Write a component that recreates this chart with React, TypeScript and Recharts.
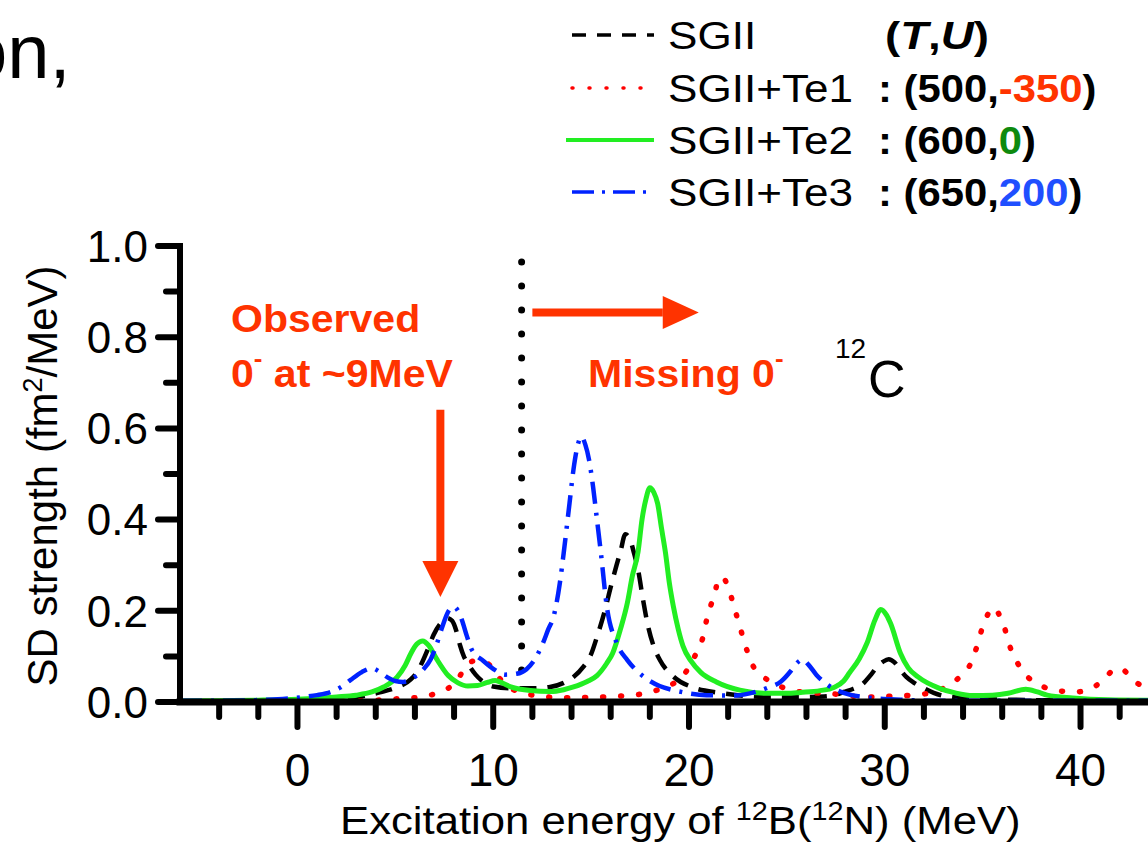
import React from "react";
import { LineChart, Line, XAxis, YAxis, ReferenceLine, Legend } from "recharts";

const FONT = "'Liberation Sans', Arial, Helvetica, sans-serif";
const ANNOT_RED = "#ff3300";

// axis ticks (MeV every 2, labels every 10; strength every 0.1, labels every 0.2)
const xTicks = [-4, -2, 0, 2, 4, 6, 8, 10, 12, 14, 16, 18, 20, 22, 24, 26, 28, 30, 32, 34, 36, 38, 40, 42];
const yTicks = [0, 0.1, 0.2, 0.3, 0.4, 0.5, 0.6, 0.7, 0.8, 0.9, 1.0];

// [excitation energy (MeV), SD strength (fm^2/MeV)]
const sgii: [number, number][] = [
  [-6, 0.001], [-2, 0.002], [0, 0.003], [2, 0.006], [3, 0.01], [3.6, 0.015], [4.2, 0.021],
  [5.0, 0.031], [5.8, 0.05], [6.1, 0.065], [6.4, 0.09], [6.7, 0.12], [6.95, 0.147], [7.3, 0.172],
  [7.65, 0.184], [7.9, 0.178], [8.1, 0.158], [8.3, 0.125], [8.5, 0.1], [8.7, 0.085], [9.1, 0.06],
  [9.5, 0.044], [10.0, 0.034], [11.0, 0.03], [12.0, 0.03], [12.9, 0.033], [13.6, 0.042],
  [14.1, 0.055], [14.6, 0.077], [15.0, 0.105], [15.3, 0.143], [15.7, 0.2], [16.0, 0.252],
  [16.3, 0.3], [16.5, 0.33], [16.75, 0.368], [17.0, 0.355], [17.2, 0.325], [17.4, 0.29],
  [17.65, 0.225], [17.9, 0.168], [18.2, 0.122], [18.5, 0.093], [19.2, 0.056], [20.2, 0.032],
  [21.6, 0.02], [22.5, 0.015], [24.0, 0.011], [25.5, 0.011], [26.9, 0.012], [27.5, 0.016],
  [27.9, 0.022], [28.4, 0.029], [28.8, 0.037], [29.3, 0.06], [29.6, 0.077], [29.9, 0.088],
  [30.2, 0.094], [30.5, 0.087], [30.8, 0.07], [31.1, 0.055], [31.5, 0.042], [32.0, 0.03],
  [32.5, 0.02], [33.2, 0.012], [35, 0.007], [38, 0.004], [43.6, 0.003],
];

const te1: [number, number][] = [
  [-6, 0.0], [-2, 0.001], [0, 0.001], [2, 0.002], [4.1, 0.004], [5.1, 0.007], [6.1, 0.01],
  [7.1, 0.019], [7.7, 0.03], [8.2, 0.05], [8.5, 0.072], [8.8, 0.087], [9.2, 0.091], [9.7, 0.085],
  [10.1, 0.065], [10.4, 0.048], [10.9, 0.03], [11.5, 0.02], [12.6, 0.012], [13.4, 0.009],
  [15.5, 0.011], [16.5, 0.013], [17.5, 0.017], [18.5, 0.028], [19.1, 0.038], [19.6, 0.053],
  [20.2, 0.092], [20.5, 0.12], [20.7, 0.14], [20.9, 0.18], [21.1, 0.21], [21.3, 0.235],
  [21.5, 0.268], [21.7, 0.274], [22.0, 0.252], [22.3, 0.209], [22.6, 0.165], [22.9, 0.121],
  [23.3, 0.077], [23.8, 0.055], [24.3, 0.042], [25.3, 0.025], [26.4, 0.02], [27.3, 0.018],
  [28.3, 0.013], [29.4, 0.011], [30.4, 0.013], [31.4, 0.015], [32.3, 0.02], [32.9, 0.028],
  [33.4, 0.04], [34.0, 0.062], [34.3, 0.077], [34.7, 0.121], [35.0, 0.165], [35.3, 0.195],
  [35.5, 0.207], [35.8, 0.195], [36.1, 0.165], [36.4, 0.121], [36.9, 0.077], [37.3, 0.055],
  [37.8, 0.04], [38.8, 0.025], [39.8, 0.022], [40.3, 0.026], [40.8, 0.036], [41.3, 0.055],
  [41.8, 0.073], [42.1, 0.072], [42.7, 0.047], [43.6, 0.028],
];

const te2: [number, number][] = [
  [-6, 0.002], [-4, 0.003], [-2, 0.004], [0, 0.006], [1, 0.008], [2, 0.011], [3, 0.015],
  [3.8, 0.022], [4.4, 0.033], [5.1, 0.055], [5.5, 0.08], [5.8, 0.107], [6.1, 0.127], [6.4, 0.134],
  [6.7, 0.124], [7.1, 0.095], [7.7, 0.058], [8.2, 0.042], [8.7, 0.035], [9.2, 0.036], [9.7, 0.043],
  [10.1, 0.047], [10.5, 0.041], [10.9, 0.033], [11.9, 0.025], [12.9, 0.023], [13.6, 0.027],
  [14.1, 0.033], [14.8, 0.045], [15.3, 0.058], [15.8, 0.085], [16.1, 0.107], [16.5, 0.16],
  [16.85, 0.217], [17.1, 0.275], [17.4, 0.33], [17.6, 0.4], [17.8, 0.445], [18.0, 0.47],
  [18.2, 0.46], [18.4, 0.435], [18.6, 0.38], [18.8, 0.327], [19.0, 0.26], [19.2, 0.21],
  [19.45, 0.16], [19.7, 0.122], [20.1, 0.09], [20.6, 0.065], [21.4, 0.044], [22.6, 0.026],
  [24.0, 0.019], [25.0, 0.019], [25.7, 0.021], [26.7, 0.025], [27.4, 0.032], [27.9, 0.046],
  [28.2, 0.064], [28.7, 0.095], [29.1, 0.13], [29.5, 0.18], [29.8, 0.203], [30.1, 0.19],
  [30.3, 0.172], [30.8, 0.107], [31.2, 0.075], [31.7, 0.055], [32.8, 0.03], [33.6, 0.02],
  [34.5, 0.014], [35.5, 0.015], [36.3, 0.019], [37.2, 0.028], [37.8, 0.022], [38.3, 0.015],
  [39.6, 0.009], [41.4, 0.005], [43.6, 0.004],
];

const te3: [number, number][] = [
  [-6, 0.003], [-4, 0.003], [-2.2, 0.004], [-1, 0.006], [0.3, 0.011], [1, 0.015], [1.7, 0.022],
  [2.2, 0.032], [2.7, 0.048], [3.3, 0.066], [3.8, 0.074], [4.2, 0.066], [4.6, 0.054], [5.0, 0.046],
  [5.4, 0.044], [6.0, 0.055], [6.4, 0.07], [6.8, 0.093], [7.1, 0.125], [7.4, 0.165], [7.7, 0.198],
  [8.0, 0.209], [8.2, 0.2], [8.4, 0.18], [8.65, 0.145], [8.9, 0.115], [9.5, 0.09], [10.1, 0.07],
  [10.6, 0.06], [11.2, 0.062], [11.7, 0.072], [12.1, 0.092], [12.5, 0.125], [12.8, 0.158],
  [13.1, 0.19], [13.4, 0.26], [13.6, 0.327], [13.9, 0.437], [14.1, 0.51], [14.3, 0.56],
  [14.5, 0.582], [14.7, 0.565], [14.9, 0.53], [15.1, 0.472], [15.3, 0.4], [15.5, 0.327],
  [15.8, 0.21], [16.3, 0.13], [16.85, 0.092], [17.4, 0.066], [17.9, 0.049], [18.5, 0.035],
  [19.2, 0.026], [20.0, 0.019], [20.9, 0.015], [22.3, 0.014], [23.1, 0.019], [24.0, 0.031],
  [24.7, 0.045], [25.2, 0.068], [25.5, 0.085], [25.8, 0.093], [26.1, 0.082], [26.5, 0.06],
  [27.1, 0.037], [27.9, 0.02], [29.3, 0.009], [30.8, 0.005], [33, 0.003], [38, 0.003], [43.6, 0.003],
];

const seriesNames = ["SGII", "SGII+Te1", "SGII+Te2", "SGII+Te3"];
const seriesData = [sgii, te1, te2, te3];

// (T, U) parameters of the tensor terms
const tParam = [500, 600, 650];
const uParam = [-350, 0, 200];
const uColors = ["#ff3300", "#0e8a0e", "#1f4fff"];

const STYLES: Record<string, { stroke: string; dash?: string; width: number }> = {
  SGII: { stroke: "#000000", dash: "17 11", width: 4.5 },
  "SGII+Te1": { stroke: "#ff0000", dash: "1 17", width: 5.5 },
  "SGII+Te2": { stroke: "#22ee22", width: 5 },
  "SGII+Te3": { stroke: "#0022ff", dash: "22 9 3 9", width: 4.5 },
};

const toRows = (pairs: [number, number][]) => pairs.map(([e, s]) => ({ e, s }));

const SText = ({ x, y, sx = 1, children, ...rest }: any) => (
  <text transform={`translate(${x} ${y}) scale(${sx} 1)`} fontFamily={FONT} {...rest}>
    {children}
  </text>
);

const bottomTick = ({ x, y, payload }: any) => {
  const major = payload.value % 10 === 0;
  return (
    <g>
      <line x1={x} x2={x} y1={y} y2={y + (major ? 25 : 15)} stroke="#000" strokeWidth={6} strokeLinecap="round" />
      {major && (
        <text x={x} y={y + 84} textAnchor="middle" fontSize={46} fontFamily={FONT} fill="#000">
          {payload.value}
        </text>
      )}
    </g>
  );
};

const topTick = ({ x, y }: any) => (
  <line x1={x} x2={x} y1={y} y2={y + 14} stroke="#000" strokeWidth={6} strokeLinecap="round" />
);

const leftTick = ({ x, y, payload }: any) => {
  const major = Math.round(payload.value * 10) % 2 === 0;
  return (
    <g>
      <line x1={x} x2={x - (major ? 22 : 14)} y1={y} y2={y} stroke="#000" strokeWidth={6} strokeLinecap="round" />
      {major && (
        <text x={x - 32} y={y} dy="0.36em" textAnchor="end" fontSize={44} fontFamily={FONT} fill="#000">
          {payload.value.toFixed(1)}
        </text>
      )}
    </g>
  );
};

const rightTick = ({ x, y, payload }: any) => {
  const major = Math.round(payload.value * 10) % 2 === 0;
  return <line x1={x} x2={x - (major ? 16 : 8)} y1={y} y2={y} stroke="#000" strokeWidth={6} strokeLinecap="round" />;
};

const arrowShape = (head: number, width: number) => (props: any) => {
  const { x1, y1, x2, y2 } = props;
  const len = Math.hypot(x2 - x1, y2 - y1) || 1;
  const ux = (x2 - x1) / len;
  const uy = (y2 - y1) / len;
  const bx = x2 - ux * head;
  const by = y2 - uy * head;
  const px = (-uy * width) / 2;
  const py = (ux * width) / 2;
  return (
    <g>
      <line x1={x1} y1={y1} x2={bx} y2={by} stroke={ANNOT_RED} strokeWidth={8} />
      <polygon points={`${x2},${y2} ${bx + px},${by + py} ${bx - px},${by - py}`} fill={ANNOT_RED} />
    </g>
  );
};

const LEGEND_ROWS = [35, 88, 140, 192];

const renderLegend = (props: any) => {
  const payload = props.payload ?? [];
  return (
    <svg width={600} height={225} style={{ display: "block" }}>
      {payload.map((entry: any, i: number) => {
        const st = STYLES[entry.value] ?? { stroke: entry.color, width: 4 };
        const cy = LEGEND_ROWS[i];
        return (
          <g key={entry.value}>
            <line
              x1={i === 2 ? 26 : 32}
              x2={114}
              y1={cy}
              y2={cy}
              stroke={st.stroke}
              strokeWidth={i === 2 ? 4 : 3.5}
              strokeDasharray={i === 0 ? "14 11" : i === 1 ? "1 16" : i === 3 ? "22 8 3 8" : undefined}
              strokeLinecap={i === 1 ? "round" : "butt"}
            />
            <SText x={128} y={cy + 14} sx={1.16} fontSize={38} fill="#000">
              {entry.value}
            </SText>
            {i === 0 ? (
              <SText x={345} y={cy + 14} sx={1.2} fontSize={38} fontWeight="bold" fill="#000">
                (<tspan fontStyle="italic">T</tspan>,<tspan fontStyle="italic">U</tspan>)
              </SText>
            ) : (
              <SText x={338} y={cy + 14} sx={1.1} fontSize={38} fontWeight="bold" fill="#000">
                {": ("}
                {tParam[i - 1]},<tspan fill={uColors[i - 1]}>{uParam[i - 1]}</tspan>)
              </SText>
            )}
          </g>
        );
      })}
    </svg>
  );
};

export default function App() {
  return (
    <div style={{ position: "fixed", left: 0, top: 0, width: 1148, height: 849, overflow: "hidden", background: "#fff" }}>
      <LineChart width={1200} height={849} margin={{ top: 246, right: 49, bottom: 47, left: 0 }}>
        <XAxis
          dataKey="e"
          type="number"
          domain={[-6, 43.6]}
          ticks={xTicks}
          interval={0}
          tickSize={0}
          tickMargin={0}
          tickLine={false}
          tick={bottomTick}
          height={100}
          allowDataOverflow
          axisLine={{ stroke: "#000", strokeWidth: 7, strokeLinecap: "square" }}
        />
        <XAxis
          xAxisId="top"
          orientation="top"
          dataKey="e"
          type="number"
          domain={[-6, 43.6]}
          ticks={xTicks}
          interval={0}
          tickSize={0}
          tickMargin={0}
          tickLine={false}
          tick={topTick}
          height={0}
          allowDataOverflow
          axisLine={{ stroke: "#000", strokeWidth: 6, strokeLinecap: "square" }}
        />
        <YAxis
          type="number"
          domain={[0, 1]}
          ticks={yTicks}
          interval={0}
          tickSize={0}
          tickMargin={0}
          tickLine={false}
          tick={leftTick}
          width={180}
          allowDataOverflow
          axisLine={{ stroke: "#000", strokeWidth: 6, strokeLinecap: "square" }}
        />
        <YAxis
          yAxisId="right"
          orientation="right"
          type="number"
          domain={[0, 1]}
          ticks={yTicks}
          interval={0}
          tickSize={0}
          tickMargin={0}
          tickLine={false}
          tick={rightTick}
          width={0}
          allowDataOverflow
          axisLine={{ stroke: "#000", strokeWidth: 6, strokeLinecap: "square" }}
        />

        <ReferenceLine
          segment={[{ x: 11.45, y: 0.07 }, { x: 11.45, y: 0.966 }]}
          stroke="#000"
          strokeWidth={7}
          strokeDasharray="0 24"
          strokeLinecap="round"
        />
        <ReferenceLine
          segment={[{ x: 7.3, y: 0.641 }, { x: 7.3, y: 0.23 }]}
          shape={arrowShape(36, 36)}
        />
        <ReferenceLine
          segment={[{ x: 12.0, y: 0.854 }, { x: 20.5, y: 0.854 }]}
          shape={arrowShape(36, 33)}
        />

        {seriesNames.map((name, i) => {
          const st = STYLES[name];
          return (
            <Line
              key={name}
              name={name}
              data={toRows(seriesData[i])}
              dataKey="s"
              type="monotone"
              stroke={st.stroke}
              strokeWidth={st.width}
              strokeDasharray={st.dash}
              strokeLinecap={name === "SGII+Te1" ? "round" : "butt"}
              dot={false}
              activeDot={false}
              isAnimationActive={false}
            />
          );
        })}

        <Legend
          layout="vertical"
          align="center"
          verticalAlign="middle"
          content={renderLegend}
          wrapperStyle={{ position: "absolute", left: 540, top: 0, width: 600, height: 225 }}
        />
      </LineChart>

      <svg
        width={1148}
        height={849}
        style={{ position: "absolute", left: 0, top: 0, pointerEvents: "none" }}
      >
        <SText x={-35} y={78} fontSize={76} fill="#000">on,</SText>

        <SText x={231} y={332} sx={1.08} fontSize={38} fontWeight="bold" fill={ANNOT_RED}>Observed</SText>
        <SText x={231} y={387} sx={1.08} fontSize={38} fontWeight="bold" fill={ANNOT_RED}>
          0<tspan dy={-20} fontSize={24}>-</tspan>
          <tspan dy={20}> at ~9MeV</tspan>
        </SText>
        <SText x={588} y={387} sx={1.08} fontSize={38} fontWeight="bold" fill={ANNOT_RED}>
          Missing 0<tspan dy={-20} fontSize={24}>-</tspan>
        </SText>
        <SText x={835} y={358} fontSize={28} fill="#000">12</SText>
        <SText x={868} y={397} fontSize={52} fill="#000">C</SText>

        <g transform="translate(57 476) rotate(-90)">
          <text x={0} y={0} textAnchor="middle" fontSize={42} fontFamily={FONT} fill="#000">
            SD strength (fm<tspan dy={-15} fontSize={27}>2</tspan>
            <tspan dy={15}>/MeV)</tspan>
          </text>
        </g>

        <SText x={340} y={834} sx={1.15} fontSize={38} fill="#000">
          Excitation energy of <tspan dy={-14} fontSize={25}>12</tspan>
          <tspan dy={14}>B(</tspan>
          <tspan dy={-14} fontSize={25}>12</tspan>
          <tspan dy={14}>N) (MeV)</tspan>
        </SText>
      </svg>
    </div>
  );
}
